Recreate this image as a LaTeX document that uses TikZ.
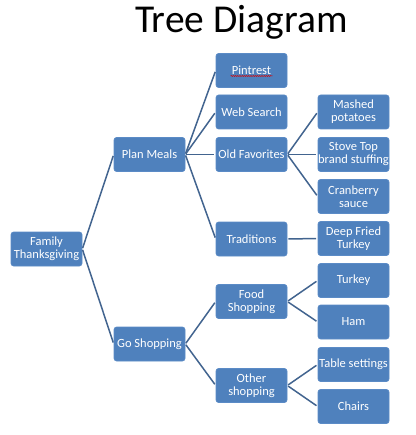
\documentclass[tikz,border=0pt]{standalone}
\usepackage{fontspec}
\setmainfont{Carlito}
\usetikzlibrary{decorations.pathmorphing}
\definecolor{boxblue}{HTML}{4F81BD}
\definecolor{boxedge}{HTML}{5B8BC6}
\definecolor{linkblue}{HTML}{42648F}
\tikzset{
  tbox/.style={rectangle, rounded corners=2.5pt, fill=boxblue, draw=boxedge, line width=0.6pt,
    minimum width=71pt, minimum height=34pt, inner sep=0pt, text=white,
    font=\fontsize{12.5}{13}\selectfont, align=center},
  link/.style={draw=linkblue, line width=1.5pt, shorten <=1pt, shorten >=1.5pt},
}
\begin{document}
\begin{tikzpicture}[x=1pt,y=-1pt]
\useasboundingbox (0,0) rectangle (415,435);
\node[anchor=base, font=\fontsize{39.5}{41}\selectfont] (title) at (241.5,33) {Tree Diagram};
% level 1
\node[tbox] (fam) at (46.5,249) {Family\\Thanksgiving};
% level 2
\node[tbox] (plan) at (149.5,154.5) {Plan Meals};
\node[tbox] (go) at (149.5,344) {Go Shopping};
% level 3
\node[tbox] (pin) at (251.5,70.5) {Pintrest};
\node[tbox] (web) at (251.5,112) {Web Search};
\node[tbox] (old) at (251.5,154.5) {Old Favorites};
\node[tbox] (trad) at (251.5,239) {Traditions};
\node[tbox] (food) at (251.5,301.5) {Food\\Shopping};
\node[tbox] (other) at (251.5,385.5) {Other\\shopping};
% level 4
\node[tbox] (mash) at (353.5,112) {Mashed\\potatoes};
\node[tbox] (stove) at (353.5,154.5) {Stove Top\\brand stuffing};
\node[tbox] (cran) at (353.5,196.5) {Cranberry\\sauce};
\node[tbox] (deep) at (353.5,238.5) {Deep Fried\\Turkey};
\node[tbox] (turk) at (353.5,280.5) {Turkey};
\node[tbox] (ham) at (353.5,322) {Ham};
\node[tbox] (table) at (353.5,364.5) {Table settings};
\node[tbox] (chairs) at (353.5,406.5) {Chairs};
% spell-check squiggle
\draw[red!85!black, line width=0.5pt, decorate, decoration={snake, amplitude=0.5pt, segment length=2.2pt}]
  ([xshift=-21pt,yshift=-5.5pt]pin.center) -- ([xshift=21pt,yshift=-5.5pt]pin.center);
% connectors
\foreach \a/\b in {fam/plan, fam/go, plan/pin, plan/web, plan/old, plan/trad,
  old/mash, old/stove, old/cran, trad/deep, go/food, go/other,
  food/turk, food/ham, other/table, other/chairs}
  \draw[link] (\a.east) -- (\b.west);
\end{tikzpicture}
\end{document}
